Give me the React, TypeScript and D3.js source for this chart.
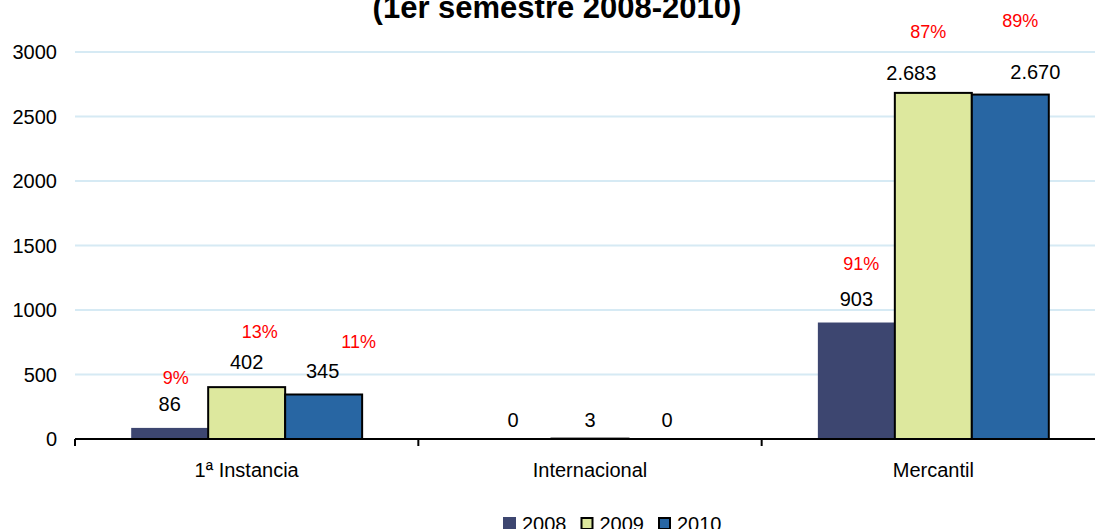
import React, { useEffect, useRef } from 'react';
import * as d3 from 'd3';

const categories = ['1ª Instancia', 'Internacional', 'Mercantil'];
const years = ['2008', '2009', '2010'];
const values2008 = [86, 0, 903];
const values2009 = [402, 3, 2683];
const values2010 = [345, 0, 2670];
const valueLabels2008 = ['86', '0', '903'];
const valueLabels2009 = ['402', '3', '2.683'];
const valueLabels2010 = ['345', '0', '2.670'];
const pct2008 = ['9%', '', '91%'];
const pct2009 = ['13%', '', '87%'];
const pct2010 = ['11%', '', '89%'];
const yTicks = [0, 500, 1000, 1500, 2000, 2500, 3000];
const titleLine = '(1er semestre 2008-2010)';

const colors = ['#3d4670', '#dde89e', '#2866a3'];
const strokes = ['none', '#000', '#000'];

// label nudges (dx, dy from bar top) for value and percent labels, [year][category]
const valueNudge = [
  [[0, -17], [0, -12], [0, -17]],
  [[0, -18], [0, -12], [-22, -13]],
  [[-1, -16], [0, -12], [25, -16]],
];
const pctNudge = [
  [[6, -44], [0, 0], [5, -53]],
  [[13, -49], [0, 0], [-5, -55]],
  [[35, -46], [0, 0], [10, -68]],
];

const App = () => {
  const svgRef = useRef<SVGSVGElement>(null);

  useEffect(() => {
    document.body.style.margin = '0';
    const svg = d3.select(svgRef.current);
    svg.selectAll('*').remove();

    const W = 1095;
    const H = 529;
    const left = 75;
    const right = 1105;
    const top = 52;
    const bottom = 439;
    const font = 'Liberation Sans, Arial, sans-serif';

    const series = [values2008, values2009, values2010];
    const vLabels = [valueLabels2008, valueLabels2009, valueLabels2010];
    const pLabels = [pct2008, pct2009, pct2010];

    const x0 = d3.scaleBand().domain(categories).range([left, right]).padding(0);
    const x1 = d3.scaleBand().domain(years).range([0, x0.bandwidth()]).paddingInner(0).paddingOuter(0.73);
    const y = d3.scaleLinear().domain([0, 3000]).range([bottom, top]);

    svg.attr('width', W).attr('height', H);

    // title (first line is off the top of the picture)
    svg.append('text')
      .attr('x', 557).attr('y', 18)
      .attr('text-anchor', 'middle')
      .style('font-family', font).style('font-weight', 'bold').style('font-size', '31px')
      .text(titleLine);

    // gridlines
    svg.append('g').selectAll('line')
      .data(yTicks.filter(d => d > 0))
      .join('line')
      .attr('x1', left).attr('x2', W)
      .attr('y1', d => y(d)).attr('y2', d => y(d))
      .attr('stroke', '#d6eaf4').attr('stroke-width', 2);

    // y tick labels
    svg.append('g').selectAll('text')
      .data(yTicks)
      .join('text')
      .attr('x', 57).attr('y', d => y(d))
      .attr('text-anchor', 'end').attr('dominant-baseline', 'central')
      .style('font-family', font).style('font-size', '20px')
      .text(d => d);

    // bars
    years.forEach((yr, i) => {
      const g = svg.append('g');
      categories.forEach((cat, j) => {
        const v = series[i][j];
        const bx = x0(cat)! + x1(yr)!;
        const bw = x1.bandwidth();
        g.append('rect')
          .attr('x', bx).attr('y', y(v))
          .attr('width', bw).attr('height', Math.max(0, y(0) - y(v)))
          .attr('fill', colors[i])
          .attr('stroke', v > 0 ? strokes[i] : 'none')
          .attr('stroke-width', 2);
      });
    });

    // axis line and category ticks
    svg.append('line')
      .attr('x1', left).attr('x2', W)
      .attr('y1', bottom).attr('y2', bottom)
      .attr('stroke', '#000').attr('stroke-width', 2);
    svg.append('g').selectAll('line')
      .data(categories)
      .join('line')
      .attr('x1', d => x0(d)!).attr('x2', d => x0(d)!)
      .attr('y1', bottom).attr('y2', bottom + 7)
      .attr('stroke', '#000').attr('stroke-width', 2);

    // category labels
    svg.append('g').selectAll('text')
      .data(categories)
      .join('text')
      .attr('x', d => x0(d)! + x0.bandwidth() / 2).attr('y', 477)
      .attr('text-anchor', 'middle')
      .style('font-family', font).style('font-size', '20px')
      .text(d => d);

    // value + percent labels
    const labelsG = svg.append('g');
    years.forEach((yr, i) => {
      categories.forEach((cat, j) => {
        const v = series[i][j];
        const cx = x0(cat)! + x1(yr)! + x1.bandwidth() / 2;
        const [vdx, vdy] = valueNudge[i][j];
        labelsG.append('text')
          .attr('x', cx + vdx).attr('y', y(v) + vdy)
          .attr('text-anchor', 'middle')
          .style('font-family', font).style('font-size', '20px')
          .text(vLabels[i][j]);
        if (pLabels[i][j]) {
          const [pdx, pdy] = pctNudge[i][j];
          labelsG.append('text')
            .attr('x', cx + pdx).attr('y', y(v) + pdy)
            .attr('text-anchor', 'middle')
            .attr('fill', '#ff0000')
            .style('font-family', font).style('font-size', '18px')
            .text(pLabels[i][j]);
        }
      });
    });

    // legend
    const legend = svg.append('g');
    years.forEach((yr, i) => {
      const lx = 503 + i * 77.5;
      legend.append('rect')
        .attr('x', lx + (i > 0 ? 1 : 0)).attr('y', 517 + (i > 0 ? 1 : 0))
        .attr('width', i > 0 ? 11 : 13).attr('height', i > 0 ? 11 : 13)
        .attr('fill', colors[i])
        .attr('stroke', strokes[i]).attr('stroke-width', 2);
      legend.append('text')
        .attr('x', lx + 19).attr('y', 531)
        .style('font-family', font).style('font-size', '20px')
        .text(yr);
    });
  }, []);

  return <svg ref={svgRef} style={{ position: 'absolute', left: 0, top: 0 }}></svg>;
};

export default App;
